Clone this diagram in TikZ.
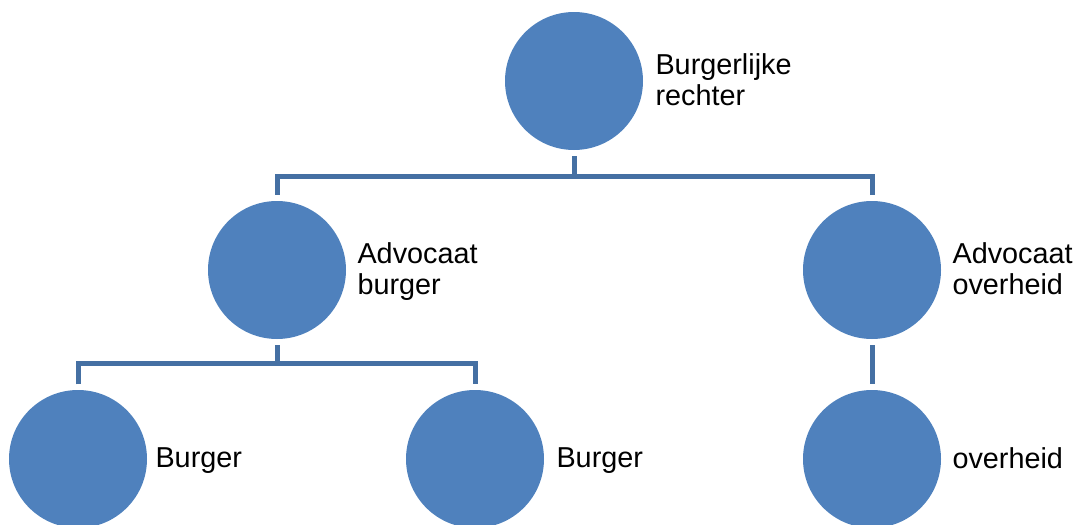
\documentclass[tikz,border=0pt]{standalone}
\usepackage{fontspec}
\setmainfont{Liberation Sans}
\usetikzlibrary{calc}
\definecolor{circfill}{HTML}{4F81BD}
\definecolor{connline}{HTML}{4570A3}
\begin{document}
\begin{tikzpicture}[x=0.75pt,y=-0.75pt,
  circ/.style={circle,fill=circfill,draw=none,inner sep=0pt,minimum size=103.5pt},
  lbl/.style={anchor=west,align=left,inner sep=0pt,font=\fontsize{21.6pt}{21.75pt}\selectfont},
  conn/.style={draw=connline,line width=3.75pt}]
\useasboundingbox (0,0) rectangle (1079,525);
\node[circ] (top) at (574,81) {};
\node[circ] (advb) at (277,270) {};
\node[circ] (advo) at (872,270) {};
\node[circ] (b1) at (78,459) {};
\node[circ] (b2) at (475,459) {};
\node[circ] (ov) at (872,459) {};
\node[lbl] (ltop) at ($(top.east)+(12,3)$) {\strut Burgerlijke\\\strut rechter};
\node[lbl] (ladvb) at ($(advb.east)+(11,3)$) {\strut Advocaat\\\strut burger};
\node[lbl] (ladvo) at ($(advo.east)+(11,3)$) {\strut Advocaat\\\strut overheid};
\node[lbl] (lb1) at ($(b1.east)+(8,3)$) {\strut Burger};
\node[lbl] (lb2) at ($(b2.east)+(12,3)$) {\strut Burger};
\node[lbl] (lov) at ($(ov.east)+(11,3)$) {\strut overheid};
\coordinate (bus1) at (0,176);
\coordinate (bus2) at (0,363);
\draw[conn] ([yshift=-4.5pt]top.south) -- (top.south |- bus1);
\draw[conn] ([yshift=4.5pt]advb.north) |- (advo.north |- bus1) -- ([yshift=4.5pt]advo.north);
\draw[conn] ([yshift=-4.5pt]advb.south) -- (advb.south |- bus2);
\draw[conn] ([yshift=4pt]b1.north) |- (b2.north |- bus2) -- ([yshift=4pt]b2.north);
\draw[conn] ([yshift=-4.5pt]advo.south) -- ([yshift=4pt]ov.north);
\end{tikzpicture}
\end{document}
